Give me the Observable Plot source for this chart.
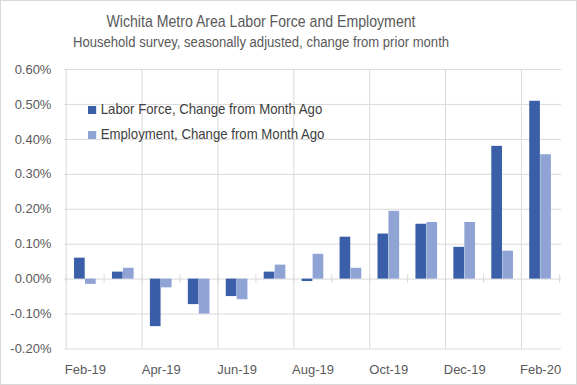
<!DOCTYPE html>
<html>
<head>
<meta charset="utf-8">
<script src="https://cdn.jsdelivr.net/npm/d3@7"></script>
<script src="https://cdn.jsdelivr.net/npm/@observablehq/plot@0.6"></script>
<style>
  html, body { margin: 0; padding: 0; background: #fff; }
  #wrap { position: relative; width: 577px; height: 385px; box-sizing: border-box; border: 1px solid #d9d9d9; overflow: hidden; font-family: "Liberation Sans", Arial, sans-serif; }
  .tt { position: absolute; left: 0; width: 520px; text-align: center; color: #595959; white-space: nowrap; }
  #t1 { top: 11px; font-size: 17px; transform: scaleX(0.83); transform-origin: 260px 0; }
  #t2 { top: 32px; font-size: 15.5px; transform: scaleX(0.845); transform-origin: 260px 0; }
  #chart { position: absolute; left: -1px; top: 54px; }
  #legend { position: absolute; left: 87px; top: 98px; color: #404040; font-size: 14.5px; transform: scaleX(0.91); transform-origin: 0 0; }
  .li { height: 25px; line-height: 20px; white-space: nowrap; }
  .sw { display: inline-block; width: 9px; height: 8px; margin-right: 5px; vertical-align: 0px; }
</style>
</head>
<body>
<div id="wrap">
  <div id="t1" class="tt">Wichita Metro Area Labor Force and Employment</div>
  <div id="t2" class="tt">Household survey, seasonally adjusted, change from prior month</div>
  <div id="chart"></div>
  <div id="legend"></div>
</div>
<script>
const months = ["Feb-19","Mar-19","Apr-19","May-19","Jun-19","Jul-19","Aug-19","Sep-19","Oct-19","Nov-19","Dec-19","Jan-20","Feb-20"];
const laborForce = [0.06, 0.02, -0.136, -0.073, -0.05, 0.02, -0.007, 0.12, 0.129, 0.157, 0.091, 0.38, 0.509];
const employment = [-0.015, 0.031, -0.025, -0.10, -0.059, 0.04, 0.071, 0.031, 0.194, 0.162, 0.162, 0.08, 0.356];
const seriesNames = ["Labor Force, Change from Month Ago", "Employment, Change from Month Ago"];
const seriesColors = ["#3a5fa8", "#8fa3d4"];
const yTicks = [-0.2, -0.1, 0, 0.1, 0.2, 0.3, 0.4, 0.5, 0.6];
const labeledMonths = months.filter((m, i) => i % 2 === 0);

const W = 577, H = 331;
const mL = 64, mR = 15, mT = 14, mB = 37;
const step = (W - mL - mR) / months.length;
const barW = 11;
const outer = (step - 2 * barW) / 2;

const lf = months.map((m, i) => ({month: m, value: laborForce[i]}));
const em = months.map((m, i) => ({month: m, value: employment[i]}));

const plot = Plot.plot({
  width: W, height: H,
  marginLeft: mL, marginRight: mR, marginTop: mT, marginBottom: mB,
  style: {fontFamily: '"Liberation Sans", Arial, sans-serif', fontSize: "13px", color: "#595959", background: "transparent"},
  x: {type: "band", domain: months, padding: 0, axis: null, label: null},
  y: {domain: [-0.2, 0.6], axis: null, label: null},
  marks: [
    Plot.ruleY(yTicks, {stroke: "#d9d9d9", strokeWidth: 1}),
    Plot.ruleX(labeledMonths, {x: d => d, dx: -step / 2, stroke: "#d9d9d9", strokeWidth: 1}),
    Plot.ruleX(months, {x: d => d, dx: -step / 2, y1: -0.012, y2: 0.012, stroke: "#d9d9d9"}),
    Plot.ruleX([months[months.length - 1]], {x: d => d, dx: step / 2, y1: -0.012, y2: 0.012, stroke: "#d9d9d9"}),
    Plot.barY(lf, {x: "month", y: "value", fill: seriesColors[0], insetLeft: outer, insetRight: outer + barW}),
    Plot.barY(em, {x: "month", y: "value", fill: seriesColors[1], insetLeft: outer + barW, insetRight: outer}),
    Plot.axisY(yTicks, {tickSize: 0, tickPadding: 13, tickFormat: d => d.toFixed(2) + "%", fill: "#595959", fontSize: 13, label: null}),
    Plot.axisX(labeledMonths, {tickSize: 0, tickPadding: 16, fill: "#595959", fontSize: 13, label: null})
  ]
});
document.getElementById("chart").appendChild(plot);

const leg = document.getElementById("legend");
seriesNames.forEach((name, i) => {
  const row = document.createElement("div");
  row.className = "li";
  const sw = document.createElement("span");
  sw.className = "sw";
  sw.style.background = seriesColors[i];
  row.appendChild(sw);
  row.appendChild(document.createTextNode(name));
  leg.appendChild(row);
});
</script>
</body>
</html>
